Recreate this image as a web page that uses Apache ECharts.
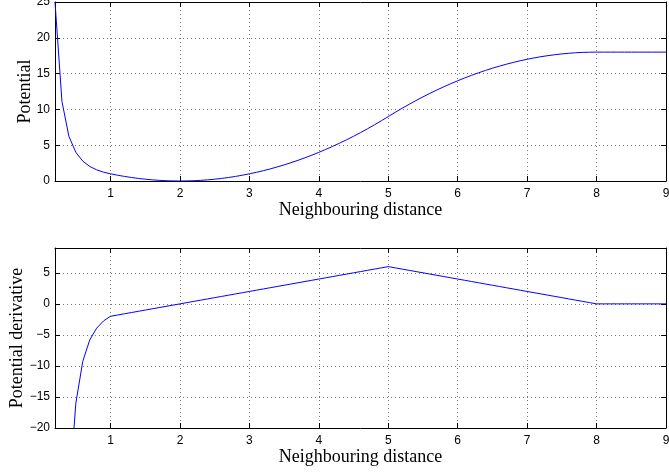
<!DOCTYPE html>
<html>
<head>
<meta charset="utf-8">
<script src="https://cdn.jsdelivr.net/npm/echarts@6/dist/echarts.min.js"></script>
<style>
  html, body { margin: 0; padding: 0; background: #fff; }
  #chart { width: 669px; height: 474px; }
</style>
</head>
<body>
<div id="chart"></div>
<script>
// sampled distances (step 0.1)
const distance = [
  0.2, 0.3, 0.4, 0.5, 0.6, 0.7, 0.8, 0.9, 1.0,
  1.1, 1.2, 1.3, 1.4, 1.5, 1.6, 1.7, 1.8, 1.9, 2.0,
  2.1, 2.2, 2.3, 2.4, 2.5, 2.6, 2.7, 2.8, 2.9, 3.0,
  3.1, 3.2, 3.3, 3.4, 3.5, 3.6, 3.7, 3.8, 3.9, 4.0,
  4.1, 4.2, 4.3, 4.4, 4.5, 4.6, 4.7, 4.8, 4.9, 5.0,
  5.1, 5.2, 5.3, 5.4, 5.5, 5.6, 5.7, 5.8, 5.9, 6.0,
  6.1, 6.2, 6.3, 6.4, 6.5, 6.6, 6.7, 6.8, 6.9, 7.0,
  7.1, 7.2, 7.3, 7.4, 7.5, 7.6, 7.7, 7.8, 7.9, 8.0,
  8.1, 8.2, 8.3, 8.4, 8.5, 8.6, 8.7, 8.8, 8.9, 9.0
];
const potential = [
  25, 11.11, 6.25, 4, 2.78, 2.04, 1.56, 1.23, 1,
  0.81, 0.64, 0.49, 0.36, 0.25, 0.16, 0.09, 0.04, 0.01, 0,
  0.01, 0.04, 0.09, 0.16, 0.25, 0.36, 0.49, 0.64, 0.81, 1,
  1.21, 1.44, 1.69, 1.96, 2.25, 2.56, 2.89, 3.24, 3.61, 4,
  4.41, 4.84, 5.29, 5.76, 6.25, 6.76, 7.29, 7.84, 8.41, 9,
  9.59, 10.16, 10.71, 11.24, 11.75, 12.24, 12.71, 13.16, 13.59, 14,
  14.39, 14.76, 15.11, 15.44, 15.75, 16.04, 16.31, 16.56, 16.79, 17,
  17.19, 17.36, 17.51, 17.64, 17.75, 17.84, 17.91, 17.96, 17.99, 18,
  18, 18, 18, 18, 18, 18, 18, 18, 18, 18
];
const derivative = [
  -250, -74.07, -31.25, -16, -9.26, -5.83, -3.91, -2.74, -2,
  -1.8, -1.6, -1.4, -1.2, -1, -0.8, -0.6, -0.4, -0.2, 0,
  0.2, 0.4, 0.6, 0.8, 1, 1.2, 1.4, 1.6, 1.8, 2,
  2.2, 2.4, 2.6, 2.8, 3, 3.2, 3.4, 3.6, 3.8, 4,
  4.2, 4.4, 4.6, 4.8, 5, 5.2, 5.4, 5.6, 5.8, 6,
  5.8, 5.6, 5.4, 5.2, 5, 4.8, 4.6, 4.4, 4.2, 4,
  3.8, 3.6, 3.4, 3.2, 3, 2.8, 2.6, 2.4, 2.2, 2,
  1.8, 1.6, 1.4, 1.2, 1, 0.8, 0.6, 0.4, 0.2, 0,
  0, 0, 0, 0, 0, 0, 0, 0, 0, 0
];
const xTicks = [1, 2, 3, 4, 5, 6, 7, 8, 9];

const labelFont = { fontFamily: 'Liberation Sans', fontSize: 12, color: '#000' };
const nameFont = { fontFamily: 'Liberation Serif', fontSize: 18, color: '#000' };
const gridLine = { show: true, lineStyle: { color: '#777', type: [1, 3], width: 1 } };
const frameLine = { show: true, onZero: false, lineStyle: { color: '#000', width: 1 } };
const tickIn = { show: true, inside: true, length: 5, lineStyle: { color: '#000' } };
const minus = v => String(v).replace('-', '\u2212');

function xAxes(gridIndex) {
  const base = { type: 'value', gridIndex: gridIndex, min: 0.2, max: 9 };
  return [
    Object.assign({}, base, {
      position: 'bottom',
      axisLine: frameLine,
      axisTick: Object.assign({}, tickIn, { customValues: xTicks }),
      axisLabel: Object.assign({}, labelFont, { customValues: xTicks, margin: 7 }),
      splitLine: gridLine,
      name: 'Neighbouring distance',
      nameLocation: 'middle',
      nameGap: 20,
      nameTextStyle: nameFont
    }),
    Object.assign({}, base, {
      position: 'top',
      axisLine: frameLine,
      axisTick: Object.assign({}, tickIn, { customValues: xTicks }),
      axisLabel: { show: false },
      splitLine: { show: false }
    })
  ];
}

function yAxes(gridIndex, min, max, name, gap) {
  const base = { type: 'value', gridIndex: gridIndex, min: min, max: max, interval: 5 };
  return [
    Object.assign({}, base, {
      position: 'left',
      axisLine: frameLine,
      axisTick: tickIn,
      axisLabel: Object.assign({}, labelFont, {
        margin: 5,
        formatter: v => (v % 5 === 0 ? minus(v) : '')
      }),
      splitLine: gridLine,
      name: name,
      nameLocation: 'middle',
      nameGap: gap,
      nameMoveOverlap: false,
      nameTextStyle: nameFont
    }),
    Object.assign({}, base, {
      position: 'right',
      axisLine: frameLine,
      axisTick: tickIn,
      axisLabel: { show: false },
      splitLine: { show: false }
    })
  ];
}

const chart = echarts.init(document.getElementById('chart'));
chart.setOption({
  animation: false,
  grid: [
    { left: 55, right: 3, top: 2, height: 179, outerBoundsMode: 'none' },
    { left: 55, right: 3, top: 248, height: 180, outerBoundsMode: 'none' }
  ],
  xAxis: xAxes(0).concat(xAxes(1)),
  yAxis: yAxes(0, 0, 25, 'Potential', 21).concat(yAxes(1, -20, 9, 'Potential derivative', 29)),
  series: [
    {
      type: 'line',
      xAxisIndex: 0,
      yAxisIndex: 0,
      data: distance.map((d, i) => [d, potential[i]]),
      showSymbol: false,
      lineStyle: { color: '#0000ff', width: 1 }
    },
    {
      type: 'line',
      xAxisIndex: 2,
      yAxisIndex: 2,
      data: distance.map((d, i) => [d, derivative[i]]),
      showSymbol: false,
      clip: true,
      lineStyle: { color: '#0000ff', width: 1 }
    }
  ]
});
</script>
</body>
</html>
